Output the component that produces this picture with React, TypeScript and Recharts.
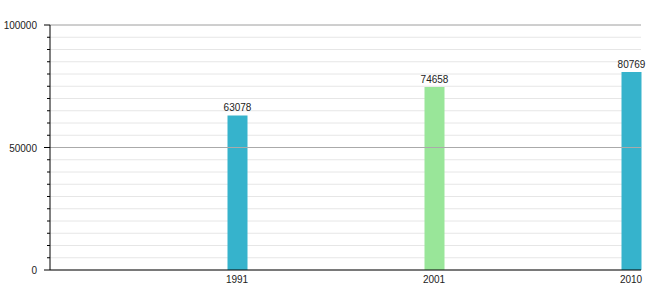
import React from 'react';
import { BarChart, Bar, XAxis, YAxis, CartesianGrid, LabelList, Cell, ReferenceLine } from 'recharts';

const years = ['1991', '2001', '2010'];
const population = [63078, 74658, 80769];
const barColors = ['#36b3cc', '#99e699', '#36b3cc'];
const yTicks = [
    0, 5000, 10000, 15000, 20000, 25000, 30000, 35000, 40000, 45000, 50000,
    55000, 60000, 65000, 70000, 75000, 80000, 85000, 90000, 95000, 100000,
];
const majorTicks = [0, 50000, 100000];

const data = years.map((year, i) => ({ year, value: population[i] }));

const YTick = (props: any) => {
    const { x, y, payload } = props;
    const major = majorTicks.includes(payload.value);
    return (
        <g>
            <line x1={x - (major ? 6 : 3)} x2={x} y1={y} y2={y} stroke="#000" />
            {major && (
                <text x={x - 13} y={y} dy={4} textAnchor="end" fontSize={10} fill="#222">
                    {payload.value}
                </text>
            )}
        </g>
    );
};

export default function App() {
    return (
        <div style={{ position: 'absolute', left: 0, top: 0, fontFamily: '"Liberation Sans", Arial, sans-serif' }}>
            <BarChart
                width={660}
                height={300}
                data={data}
                margin={{ top: 25, right: 19, left: 0, bottom: 0 }}
            >
                <CartesianGrid vertical={false} stroke="#e6e6e6" />
                {majorTicks.slice(1).map((t) => (
                    <ReferenceLine key={t} y={t} stroke="#aaaaaa" />
                ))}
                <XAxis
                    dataKey="year"
                    scale="point"
                    padding={{ left: 187, right: 10 }}
                    height={30}
                    tickLine={false}
                    axisLine={{ stroke: '#000' }}
                    tick={{ fontSize: 10, fill: '#222' }}
                    tickMargin={0}
                />
                <YAxis
                    width={50}
                    domain={[0, 100000]}
                    ticks={yTicks}
                    interval={0}
                    tickSize={0}
                    tickMargin={0}
                    tickLine={false}
                    axisLine={{ stroke: '#000' }}
                    tick={<YTick />}
                />
                <Bar dataKey="value" barSize={20} isAnimationActive={false}>
                    {data.map((d, i) => (
                        <Cell key={d.year} fill={barColors[i]} />
                    ))}
                    <LabelList dataKey="value" position="top" offset={4} fontSize={10} fill="#222" />
                </Bar>
            </BarChart>
        </div>
    );
}
